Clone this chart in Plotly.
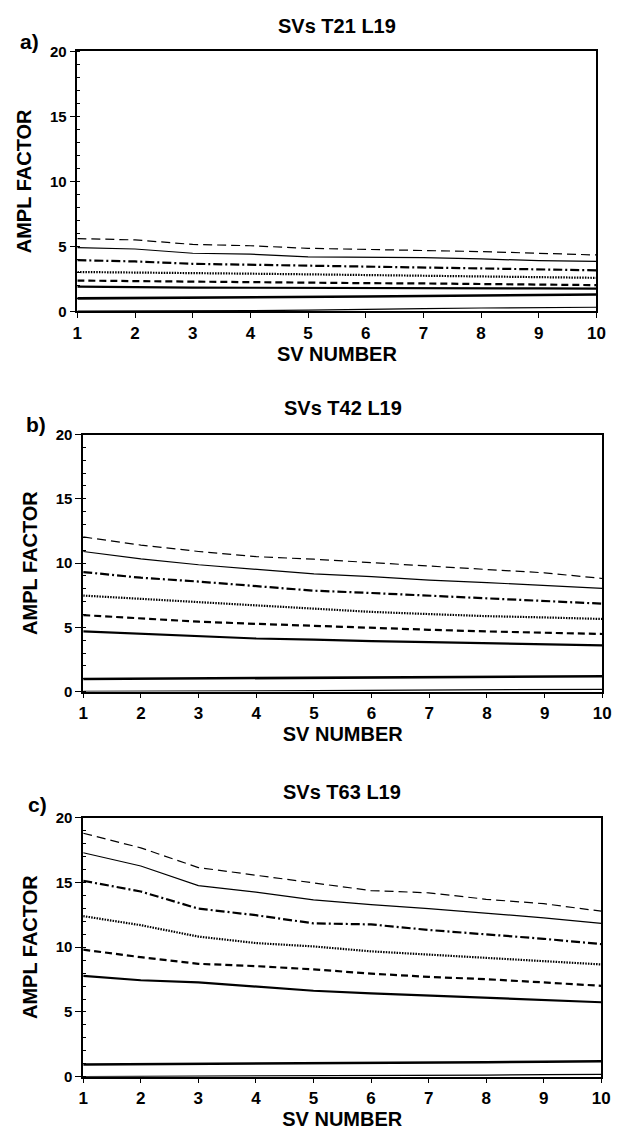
import plotly.graph_objects as go

sv_number = [1, 2, 3, 4, 5, 6, 7, 8, 9, 10]

panel_titles = ["SVs T21 L19", "SVs T42 L19", "SVs T63 L19"]
panel_labels = ["a)", "b)", "c)"]

# Panel a: T21 L19
a_long_dash = [5.6, 5.5, 5.15, 5.05, 4.85, 4.77, 4.67, 4.6, 4.47, 4.34]
a_thin_solid = [4.9, 4.8, 4.47, 4.4, 4.2, 4.19, 4.14, 4.04, 3.9, 3.84]
a_dash_dot = [3.94, 3.84, 3.66, 3.59, 3.5, 3.46, 3.38, 3.33, 3.26, 3.16]
a_dotted = [3.03, 3.0, 2.93, 2.9, 2.85, 2.8, 2.75, 2.7, 2.63, 2.58]
a_dashed = [2.37, 2.32, 2.27, 2.25, 2.22, 2.17, 2.15, 2.12, 2.07, 2.02]
a_thick_solid = [1.9, 1.85, 1.83, 1.82, 1.82, 1.8, 1.8, 1.78, 1.77, 1.75]
a_unit = [1.0, 1.02, 1.05, 1.08, 1.12, 1.15, 1.18, 1.22, 1.26, 1.3]
a_low = [0.03, 0.03, 0.04, 0.06, 0.1, 0.18, 0.22, 0.26, 0.3, 0.32]

# Panel b: T42 L19
b_long_dash = [12.03, 11.4, 10.9, 10.5, 10.3, 10.05, 9.75, 9.5, 9.24, 8.8]
b_thin_solid = [10.9, 10.33, 9.87, 9.5, 9.16, 8.94, 8.68, 8.48, 8.23, 8.03]
b_dash_dot = [9.3, 8.86, 8.56, 8.23, 7.85, 7.67, 7.47, 7.27, 7.09, 6.84]
b_dotted = [7.47, 7.22, 6.96, 6.7, 6.46, 6.2, 6.03, 5.87, 5.77, 5.65]
b_dashed = [5.95, 5.7, 5.44, 5.27, 5.11, 4.94, 4.81, 4.68, 4.6, 4.48]
b_thick_solid = [4.68, 4.48, 4.3, 4.13, 4.05, 3.92, 3.85, 3.75, 3.67, 3.6]
b_unit = [0.98, 1.0, 1.02, 1.05, 1.08, 1.1, 1.12, 1.15, 1.17, 1.2]
b_low = [0.02, 0.02, 0.03, 0.05, 0.08, 0.1, 0.12, 0.14, 0.16, 0.18]

# Panel c: T63 L19
c_long_dash = [18.8, 17.67, 16.15, 15.56, 15.0, 14.37, 14.2, 13.7, 13.36, 12.78]
c_thin_solid = [17.29, 16.27, 14.75, 14.25, 13.66, 13.28, 12.98, 12.65, 12.27, 11.84]
c_dash_dot = [15.13, 14.3, 12.98, 12.47, 11.84, 11.76, 11.33, 11.0, 10.65, 10.24]
c_dotted = [12.4, 11.7, 10.82, 10.32, 10.06, 9.68, 9.43, 9.18, 8.97, 8.67]
c_dashed = [9.81, 9.23, 8.72, 8.54, 8.29, 7.96, 7.71, 7.53, 7.28, 7.02]
c_thick_solid = [7.78, 7.45, 7.28, 6.95, 6.64, 6.44, 6.26, 6.08, 5.93, 5.75]
c_unit = [0.94, 0.96, 0.98, 1.0, 1.03, 1.06, 1.09, 1.12, 1.16, 1.19]
c_low = [0.01, 0.02, 0.03, 0.05, 0.07, 0.09, 0.11, 0.13, 0.16, 0.18]

panels = [
    [a_long_dash, a_thin_solid, a_dash_dot, a_dotted, a_dashed, a_thick_solid, a_unit, a_low],
    [b_long_dash, b_thin_solid, b_dash_dot, b_dotted, b_dashed, b_thick_solid, b_unit, b_low],
    [c_long_dash, c_thin_solid, c_dash_dot, c_dotted, c_dashed, c_thick_solid, c_unit, c_low],
]

line_styles = [
    dict(width=1.2, dash="9px,5px"),
    dict(width=1.2, dash="solid"),
    dict(width=2.2, dash="9px,3px,2px,3px"),
    dict(width=2.2, dash="1.5px,1.2px"),
    dict(width=2.2, dash="7px,4px"),
    dict(width=2.2, dash="solid"),
    dict(width=2.6, dash="solid"),
    dict(width=1.2, dash="solid"),
]

W, H = 624, 1133
# plot areas in pixels: (left, right, top, bottom)
boxes = [(74, 605, 43, 307), (80, 611, 432, 693), (80, 610, 821, 1084)]
title_y = [17, 405, 795]
label_pos = [(25, 33), (32, 422), (33, 808)]

FONT = "Liberation Sans, Arial, Helvetica, sans-serif"

fig = go.Figure()
layout = dict(
    width=W, height=H,
    margin=dict(l=0, r=0, t=0, b=0),
    paper_bgcolor="white", plot_bgcolor="white",
    showlegend=False,
    font=dict(family=FONT, color="black", weight="bold"),
    annotations=[],
)

for i, series in enumerate(panels):
    sfx = "" if i == 0 else str(i + 1)
    xa, ya = "x" + sfx, "y" + sfx
    for vals, st in zip(series, line_styles):
        fig.add_trace(go.Scatter(
            x=sv_number, y=vals, mode="lines", xaxis=xa, yaxis=ya,
            line=dict(color="black", width=st["width"], dash=st["dash"]),
            hoverinfo="skip",
        ))
    l, r, t, b = boxes[i]
    layout["xaxis" + sfx] = dict(
        domain=[l / W, r / W], anchor=ya, range=[1, 10],
        tickmode="array", tickvals=sv_number, ticktext=[str(v) for v in sv_number],
        ticks="outside", ticklen=5, tickwidth=1.2, tickcolor="black",
        showline=True, linecolor="black", linewidth=1.5, mirror=True,
        showgrid=False, zeroline=False,
        tickfont=dict(family=FONT, size=17, weight="bold"),
        title=dict(text="SV NUMBER", font=dict(family=FONT, size=20, weight="bold"), standoff=1),
    )
    layout["yaxis" + sfx] = dict(
        domain=[1 - b / H, 1 - t / H], anchor=xa, range=[0, 20],
        tickmode="array", tickvals=[0, 5, 10, 15, 20],
        ticks="outside", ticklen=6, tickwidth=1.2, tickcolor="black",
        minor=dict(tickvals=list(range(0, 21)), ticks="inside", ticklen=3, tickcolor="black", tickwidth=1),
        showline=True, linecolor="black", linewidth=1.5, mirror=True,
        showgrid=False, zeroline=False,
        tickfont=dict(family=FONT, size=15, weight="bold"),
        title=dict(text="AMPL FACTOR", font=dict(family=FONT, size=20, weight="bold"), standoff=13),
    )
    layout["annotations"].append(dict(
        text=panel_titles[i], xref="paper", yref="paper",
        x=(l + r) / 2 / W, y=1 - title_y[i] / H, xanchor="center", yanchor="middle",
        showarrow=False, font=dict(family=FONT, size=20, weight="bold"),
    ))
    lx, ly = label_pos[i]
    layout["annotations"].append(dict(
        text=panel_labels[i], xref="paper", yref="paper",
        x=lx / W, y=1 - ly / H, xanchor="center", yanchor="middle",
        showarrow=False, font=dict(family=FONT, size=21, weight="bold"),
    ))

fig.update_layout(**layout)
fig.write_html("out.html")
